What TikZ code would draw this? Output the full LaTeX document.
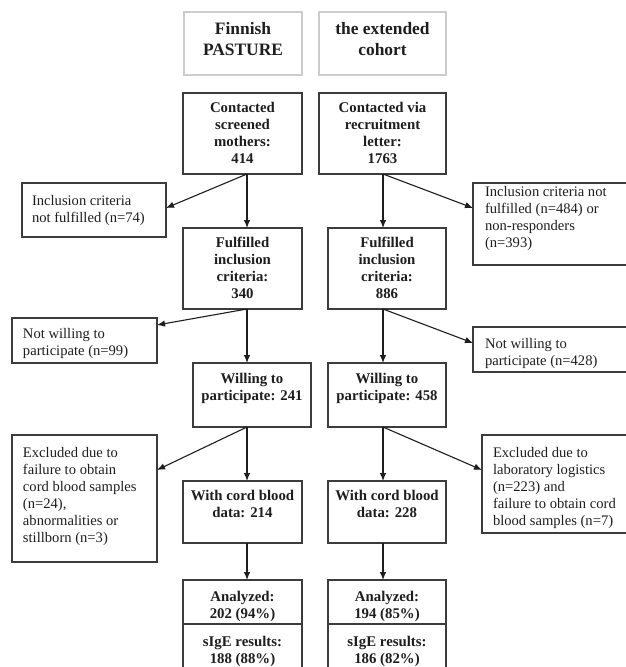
\documentclass[tikz,border=0pt]{standalone}
\usepackage{fontspec}
\setmainfont{Liberation Serif}
\usetikzlibrary{arrows.meta,calc}
\definecolor{ink}{HTML}{1E1E1E}
\definecolor{edgec}{HTML}{3C3C3C}
\definecolor{lightc}{HTML}{CDCDCD}
% main (bold, centred) box text: width, height, top pad, text
\newcommand\mtext[4]{\parbox[c][#2pt][t]{#1pt}{\vspace*{#3pt}\centering\bfseries\fontsize{14.8}{17}\selectfont #4\par}}
% header text
\newcommand\htext[3]{\parbox[c][#2pt][t]{#1pt}{\vspace*{10pt}\centering\bfseries\fontsize{17.4}{21}\selectfont #3\par}}
% side (regular, left) box text: width, height, top pad, left pad, text
\newcommand\stext[5]{\parbox[c][#2pt][t]{#1pt}{\vspace*{#3pt}\raggedright\leftskip=#4pt\fontsize{14.6}{17}\selectfont #5\par}}
\tikzset{
  mbox/.style={draw=edgec, line width=1.3pt, inner sep=0pt, outer sep=0pt, anchor=north west, text=ink},
  hbox/.style={draw=lightc, line width=1.2pt, inner sep=0pt, outer sep=0pt, anchor=north west, text=ink},
  sbox/.style={draw=edgec, line width=1.3pt, inner sep=0pt, outer sep=0pt, anchor=north west, text=ink},
  arr/.style={draw=ink, line width=1.1pt, -{Latex[length=8pt,width=6.5pt]}}
}
\begin{document}
\begin{tikzpicture}[x=1pt,y=-1pt]
\useasboundingbox (0,0) rectangle (625,667);
\fill[white] (0,0) rectangle (625,667);
% headers
\node[hbox] (h1) at (184,12) {\htext{118}{63}{Finnish\\PASTURE}};
\node[hbox] (h2) at (319,12) {\htext{127}{63}{the extended\\cohort}};
% left column
\node[mbox] (c1) at (183,93)  {\mtext{119}{81}{9.5}{Contacted\\screened\\mothers:\\414}};
\node[mbox] (f1) at (183,228) {\mtext{119}{81}{9.5}{Fulfilled\\inclusion\\criteria:\\340}};
\node[mbox] (w1) at (193,363) {\mtext{118}{64}{10.5}{Willing to\\participate: 241}};
\node[mbox] (d1) at (183,481) {\mtext{119}{62}{9.5}{With cord blood\\data: 214}};
\node[mbox] (a1) at (183,580) {\mtext{119}{44}{11}{Analyzed:\\202 (94\%)}};
\node[mbox] (s1) at (183,624) {\mtext{119}{50}{12.5}{sIgE results:\\188 (88\%)}};
% right column
\node[mbox] (c2) at (319,93)  {\mtext{127}{81}{9.5}{Contacted via\\recruitment\\letter:\\1763}};
\node[mbox] (f2) at (328,228) {\mtext{118}{81}{9.5}{Fulfilled\\inclusion\\criteria:\\886}};
\node[mbox] (w2) at (328,363) {\mtext{118}{64}{10.5}{Willing to\\participate: 458}};
\node[mbox] (d2) at (328,481) {\mtext{118}{62}{9.5}{With cord blood\\data: 228}};
\node[mbox] (a2) at (328,580) {\mtext{118}{44}{11}{Analyzed:\\194 (85\%)}};
\node[mbox] (s2) at (328,624) {\mtext{118}{50}{12.5}{sIgE results:\\186 (82\%)}};
% side boxes
\node[sbox] (L1) at (22,183)  {\stext{144}{54}{12}{10}{Inclusion criteria\\not fulfilled (n=74)}};
\node[sbox] (R1) at (473,183) {\stext{160}{82}{3}{12}{Inclusion criteria not\\fulfilled (n=484) or\\non-responders\\(n=393)}};
\node[sbox] (L2) at (12,318)  {\stext{145}{45}{10}{11}{Not willing to\\participate (n=99)}};
\node[sbox] (R2) at (473,327) {\stext{160}{45}{11}{12}{Not willing to\\participate (n=428)}};
\node[sbox] (L3) at (12,435)  {\stext{145}{127}{12}{11}{Excluded due to\\failure to obtain\\cord blood samples\\(n=24),\\abnormalities or\\stillborn (n=3)}};
\node[sbox] (R3) at (482,435) {\stext{150}{98}{12}{11}{Excluded due to\\laboratory logistics\\(n=223) and\\failure to obtain cord\\blood samples (n=7)}};
% connector columns
\coordinate (xl) at (247,0);
\coordinate (xr) at (383,0);
% arrows
\draw[arr] (c1.south -| xl) -- (f1.north -| xl);
\draw[arr] (c1.south -| xl) -- ([yshift=-25pt]L1.north east);
\draw[arr] (c2.south -| xr) -- (f2.north -| xr);
\draw[arr] (c2.south -| xr) -- ([yshift=-25pt]R1.north west);
\draw[arr] (f1.south -| xl) -- (w1.north -| xl);
\draw[arr] (f1.south -| xl) -- ([yshift=-7pt]L2.north east);
\draw[arr] (f2.south -| xr) -- (w2.north -| xr);
\draw[arr] (f2.south -| xr) -- ([yshift=-16pt]R2.north west);
\draw[arr] (w1.south -| xl) -- (d1.north -| xl);
\draw[arr] (w1.south -| xl) -- ([yshift=-35pt]L3.north east);
\draw[arr] (w2.south -| xr) -- (d2.north -| xr);
\draw[arr] (w2.south -| xr) -- ([yshift=-35pt]R3.north west);
\draw[arr] (d1.south -| xl) -- (a1.north -| xl);
\draw[arr] (d2.south -| xr) -- (a2.north -| xr);
\end{tikzpicture}
\end{document}
